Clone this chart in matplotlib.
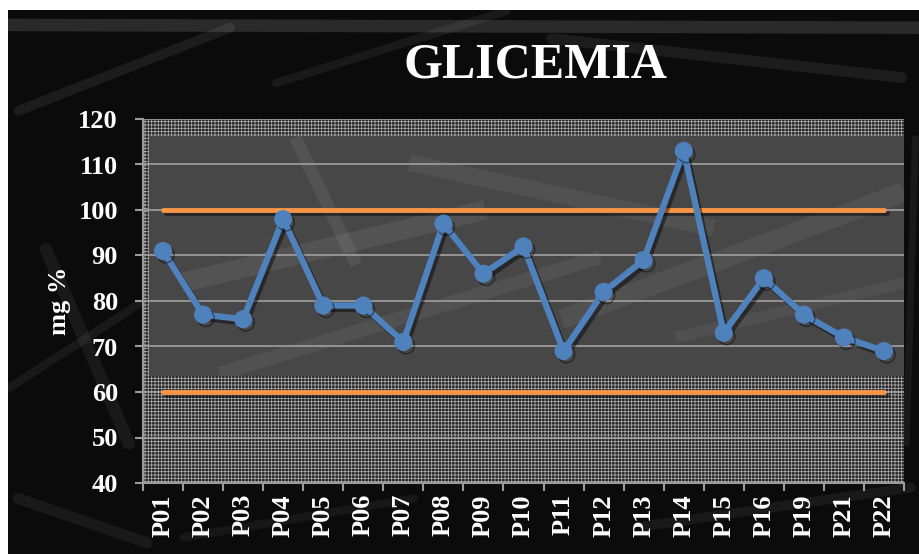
import matplotlib.pyplot as plt
import matplotlib.patheffects as pe
from matplotlib.patches import Rectangle

patients = ["P01", "P02", "P03", "P04", "P05", "P06", "P07", "P08", "P09", "P10",
            "P11", "P12", "P13", "P14", "P15", "P16", "P19", "P21", "P22"]
glicemia = [91, 77, 76, 98, 79, 79, 71, 97, 86, 92,
            69, 82, 89, 113, 73, 85, 77, 72, 69]
limite_sup = 100
limite_inf = 60

plt.rcParams['font.family'] = ['Liberation Serif', 'DejaVu Serif']
plt.rcParams['font.weight'] = 'bold'
plt.rcParams['hatch.linewidth'] = 0.6

fig = plt.figure(figsize=(9.2, 5.54), dpi=100)
fig.patch.set_facecolor('white')

# dark backdrop of the chart (leaves a thin white strip top and left)
fig.patches.append(Rectangle((8 / 920, 0), 912 / 920, 544 / 554, transform=fig.transFigure,
                             facecolor='#0b0b0b', edgecolor='none', zorder=-10))
# some faint streaks across the backdrop
streaks = [((0.01, 0.955), (1.0, 0.95), 9, 0.13),
           ((0.02, 0.80), (0.25, 0.95), 7, 0.07),
           ((0.05, 0.55), (0.14, 0.20), 9, 0.06),
           ((0.01, 0.30), (0.15, 0.45), 6, 0.06),
           ((0.02, 0.10), (0.16, 0.02), 8, 0.06),
           ((0.60, 0.93), (0.98, 0.86), 8, 0.07),
           ((0.30, 0.85), (0.55, 0.98), 6, 0.06),
           ((0.70, 0.05), (0.99, 0.12), 7, 0.06),
           ((0.20, 0.03), (0.45, 0.10), 6, 0.05),
           ((0.985, 0.20), (0.995, 0.75), 5, 0.06)]
for (x0, y0), (x1, y1), lw, a in streaks:
    fig.add_artist(plt.Line2D([x0, x1], [y0, y1], transform=fig.transFigure,
                              color='white', alpha=a, lw=lw, solid_capstyle='round', zorder=-5))

ax = fig.add_axes([143 / 920, 71 / 554, 761 / 920, 364 / 554])
ax.set_facecolor('#474747')
x = list(range(len(patients)))
ax.set_xlim(-0.5, len(patients) - 0.5)
ax.set_ylim(40, 120)

# slanted lighter streaks on the plot area
inner = [((0.05, 0.55), (0.45, 0.75), 14, 0.07),
         ((0.10, 0.30), (0.60, 0.62), 10, 0.06),
         ((0.35, 0.88), (0.75, 0.70), 12, 0.06),
         ((0.55, 0.45), (1.00, 0.80), 14, 0.06),
         ((0.20, 0.95), (0.28, 0.60), 9, 0.07),
         ((0.70, 0.40), (1.00, 0.55), 8, 0.05)]
for (x0, y0), (x1, y1), lw, a in inner:
    ax.plot([x0, x1], [y0, y1], transform=ax.transAxes, color='white', alpha=a,
            lw=lw, solid_capstyle='butt', zorder=0.3)

# hatched bands inside the plot area
for xy, w, h in [((-0.5, 40), len(patients), 23.5),
                 ((-0.5, 116.3), len(patients), 3.7),
                 ((-0.5, 40), 0.15, 80)]:
    ax.add_patch(Rectangle(xy, w, h, facecolor='#222222', edgecolor='#a6a6a6',
                           hatch='+++++', lw=0, zorder=0.4))

ax.set_yticks(range(40, 121, 10))
ax.yaxis.grid(True, color='#a0a0a0', lw=1.2, zorder=1)
ax.set_axisbelow(True)
ax.set_xticks([i - 0.5 for i in range(len(patients) + 1)], minor=False)
ax.set_xticklabels([])
ax.set_xticks(x, minor=True)
ax.set_xticklabels(patients, minor=True, rotation=90, fontsize=19, fontweight='bold', color='white')
ax.tick_params(axis='x', which='minor', length=0, pad=8)
ax.tick_params(axis='x', which='major', length=6, width=1.5, color='#9a9a9a', direction='out')
ax.tick_params(axis='y', length=6, width=1.5, color='#9a9a9a', pad=12,
               labelsize=19, labelcolor='white')
for lab in ax.get_yticklabels():
    lab.set_fontweight('bold')

for s in ['top', 'right']:
    ax.spines[s].set_visible(False)
for s in ['left', 'bottom']:
    ax.spines[s].set_color('#9a9a9a')
    ax.spines[s].set_linewidth(1.5)

shadow = [pe.SimpleLineShadow(offset=(2, -2.5), shadow_color='black', alpha=0.45), pe.Normal()]
ax.plot(x, [limite_sup] * len(x), color='#F79646', lw=3.5, solid_capstyle='round',
        zorder=3, path_effects=shadow)
ax.plot(x, [limite_inf] * len(x), color='#F79646', lw=3.5, solid_capstyle='round',
        zorder=3, path_effects=shadow)
ax.plot(x, glicemia, color='#4F81BD', lw=4.5, marker='o', markersize=12,
        zorder=4, path_effects=shadow)

ax.set_ylabel('mg %', fontsize=19, fontweight='bold', color='white', labelpad=5)
fig.text(535 / 920, 1 - 65 / 554, 'GLICEMIA', ha='center', va='center',
         fontsize=36, fontweight='bold', color='white')

fig.savefig('out.png', dpi=100, facecolor=fig.get_facecolor())
